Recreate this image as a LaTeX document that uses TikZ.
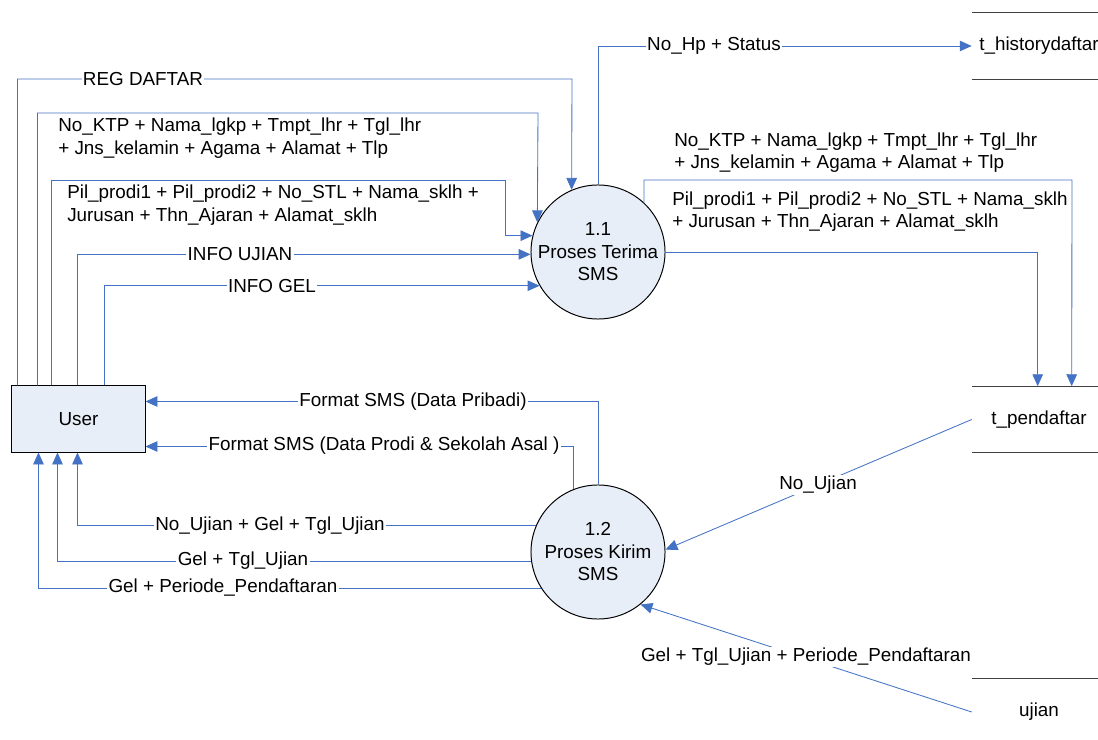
\documentclass[tikz,border=0pt]{standalone}
\usepackage{fontspec}
\setmainfont{Liberation Sans}
\usetikzlibrary{arrows.meta,calc}
\definecolor{flowblue}{RGB}{68,114,196}
\definecolor{procfill}{RGB}{232,238,248}

\begin{document}
\begin{tikzpicture}[x=0.025cm,y=-0.025cm,
  font=\fontsize{13.4}{16}\selectfont,
  flow/.style={draw=flowblue, line width=0.6pt, -{Triangle[length=8.5pt,width=7.5pt]}},
  lbl/.style={fill=white, inner sep=1pt},
  txt/.style={anchor=west, align=left, inner sep=0pt},
  proc/.style={circle, draw, line width=0.7pt, fill=procfill, minimum size=3.35cm, align=center, inner sep=0pt},
  store/.style={minimum width=3.35cm, minimum height=1.65cm, inner sep=0pt},
  storeline/.style={draw=black!75, line width=0.8pt}]
\useasboundingbox (0,0) rectangle (1098,740);
\node[proc] (pid1) at (598,252) {1.1\\Proses Terima\\SMS};
\node[proc] (pid2) at (598,552) {1.2\\Proses Kirim\\SMS};
\node[draw, line width=0.7pt, fill=procfill, minimum width=3.325cm, minimum height=1.65cm] (eid0) at (78.5,419) {User};
\node[store] (sid0) at (1039,46) {t\_historydaftar};
\node[store] (sid1) at (1039,419.5) {t\_pendaftar};
\node[store] (sid2) at (1039,712) {ujian};
\draw[storeline](sid0.north west) -- (sid0.north east);
\draw[storeline](sid0.south west) -- (sid0.south east);
\draw[storeline](sid1.north west) -- (sid1.north east);
\draw[storeline](sid1.south west) -- (sid1.south east);
\draw[storeline](sid2.north west) -- (sid2.north east);
\draw[flow]($(eid0.north west)+(6,0)$) |- (572,79) -- (pid1.113);
\draw[flow]($(eid0.north west)+(26,0)$) |- (538,113) -- (pid1.154);
\draw[flow]($(eid0.north west)+(40,0)$) |- (505,180) |- (pid1.166);
\draw[flow]($(eid0.north west)+(66,0)$) |- (pid1.182);
\draw[flow]($(eid0.north west)+(93,0)$) |- (pid1.210);
\draw[flow](pid1.north) |- (sid0.west);
\draw[flow](pid1.47) |- (1072,180) -- ($(sid1.north west)+(100,0)$);
\draw[flow](pid1.east) -| ($(sid1.north west)+(66,0)$);
\draw[flow](pid2.north) |- ($(eid0.north east)+(0,16)$);
\draw[flow](pid2.111) |- ($(eid0.south east)+(0,-6)$);
\draw[flow](pid2.157) -| ($(eid0.south west)+(66,0)$);
\draw[flow](pid2.188) -| ($(eid0.south west)+(46,0)$);
\draw[flow](pid2.213) -| ($(eid0.south west)+(27,0)$);
\draw[flow](sid1.west) -- (pid2.2);
\draw[flow](sid2.west) -- (pid2.-51);
\node[lbl] (lid0) at (143,79) {REG DAFTAR};
\node[txt] (lid1) at (58,138) {No\_KTP + Nama\_lgkp + Tmpt\_lhr + Tgl\_lhr\\+ Jns\_kelamin + Agama + Alamat + Tlp};
\node[txt] (lid2) at (67,205) {Pil\_prodi1 + Pil\_prodi2 + No\_STL + Nama\_sklh +\\Jurusan + Thn\_Ajaran + Alamat\_sklh};
\node[lbl] (lid3) at (240,254) {INFO UJIAN};
\node[lbl] (lid4) at (272,286) {INFO GEL};
\node[lbl] (lid5) at (714,46) {No\_Hp + Status};
\node[txt] (lid6) at (674,152.5) {No\_KTP + Nama\_lgkp + Tmpt\_lhr + Tgl\_lhr\\+ Jns\_kelamin + Agama + Alamat + Tlp};
\node[txt] (lid7) at (672,211.5) {Pil\_prodi1 + Pil\_prodi2 + No\_STL + Nama\_sklh\\+ Jurusan + Thn\_Ajaran + Alamat\_sklh};
\node[lbl] (lid8) at (413,402) {Format SMS (Data Pribadi)};
\node[lbl] (lid9) at (384,446) {Format SMS (Data Prodi \& Sekolah Asal )};
\node[lbl] (lid10) at (270,526) {No\_Ujian + Gel + Tgl\_Ujian};
\node[lbl] (lid11) at (243,561) {Gel + Tgl\_Ujian};
\node[lbl] (lid12) at (223,588) {Gel + Periode\_Pendaftaran};
\node[lbl] (lid13) at (818,485) {No\_Ujian};
\node[lbl] (lid14) at (806,657) {Gel + Tgl\_Ujian + Periode\_Pendaftaran};
\end{tikzpicture}
\end{document}
